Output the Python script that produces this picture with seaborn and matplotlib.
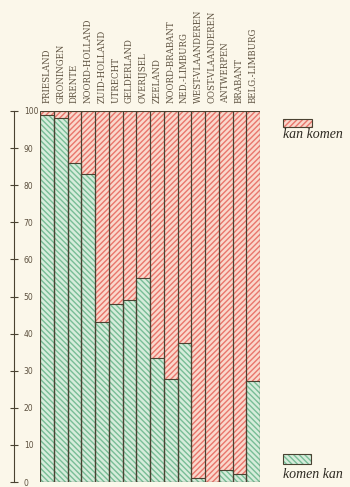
import matplotlib
matplotlib.use("Agg")
import matplotlib.pyplot as plt
import seaborn as sns
import pandas as pd
from matplotlib.patches import Rectangle

regions = ["FRIESLAND", "GRONINGEN", "DRENTE", "NOORD-HOLLAND", "ZUID-HOLLAND",
           "UTRECHT", "GELDERLAND", "OVERIJSEL", "ZEELAND", "NOORD-BRABANT",
           "NED.-LIMBURG", "WEST-VLAANDEREN", "OOST-VLAANDEREN", "ANTWERPEN",
           "BRABANT", "BELG.-LIMBURG"]
komen_kan = [99, 98, 86, 83, 43, 48, 49, 55, 33.5, 27.7, 37.6, 1, 0, 3.3, 2.1, 27.2]
totaal = [100] * len(regions)
yticks = [0, 10, 20, 30, 40, 50, 60, 70, 80, 90, 100]
legend_labels = ["kan komen", "komen kan"]

df = pd.DataFrame({"regio": regions, "komen_kan": komen_kan, "totaal": totaal})

BG = "#fbf7ea"
RED_FILL = "#fad8cc"
RED_HATCH = "#e9766c"
GREEN_FILL = "#d6ecdb"
GREEN_HATCH = "#78bd96"
EDGE = "#4a4232"
TEXT = "#5e5240"

sns.set_theme(style="white")
plt.rcParams["hatch.linewidth"] = 1.0

fig = plt.figure(figsize=(3.5, 4.87), dpi=100, facecolor=BG)
ax = fig.add_axes([40 / 350, 1 - 482 / 487, 220 / 350, (482 - 111) / 487])
ax.set_facecolor(BG)

# red background bars (total)
sns.barplot(data=df, x="regio", y="totaal", color=RED_FILL, saturation=1,
            width=1.0, ax=ax, errorbar=None)
n = len(regions)
for p in ax.patches[:n]:
    p.set_facecolor(RED_FILL)
    p.set_edgecolor(RED_HATCH)
    p.set_hatch("//////")
    p.set_linewidth(0)

# green bars
sns.barplot(data=df, x="regio", y="komen_kan", color=GREEN_FILL, saturation=1,
            width=1.0, ax=ax, errorbar=None)
for p in ax.patches[n:2 * n]:
    p.set_facecolor(GREEN_FILL)
    p.set_edgecolor(GREEN_HATCH)
    p.set_hatch("\\\\\\\\\\\\")
    p.set_linewidth(0)

# outlines
sns.barplot(data=df, x="regio", y="totaal", color=EDGE, fill=False, saturation=1,
            width=1.0, ax=ax, errorbar=None, linewidth=0.8)
sns.barplot(data=df, x="regio", y="komen_kan", color=EDGE, fill=False, saturation=1,
            width=1.0, ax=ax, errorbar=None, linewidth=0.8)
for p in ax.patches[2 * n:]:
    p.set_edgecolor(EDGE)
    p.set_facecolor("none")

ax.set_xlim(-0.5, n - 0.5)
ax.set_ylim(0, 100)
ax.set_xlabel("")
ax.set_ylabel("")

# top labels
ax.xaxis.tick_top()
ax.set_xticks(range(n))
ax.set_xticklabels(regions, rotation=90, family="DejaVu Serif", fontsize=6.2,
                   color=TEXT, va="bottom", ha="center")
ax.tick_params(axis="x", length=0, pad=5.5)

# y axis
for s in ["top", "right", "bottom"]:
    ax.spines[s].set_visible(False)
ax.spines["left"].set_position(("outward", 18.7))
ax.spines["left"].set_color(EDGE)
ax.spines["left"].set_linewidth(0.8)
ax.set_yticks(yticks)
ax.set_yticklabels([str(t) for t in yticks], fontsize=5.5, color=TEXT)
ax.tick_params(axis="y", direction="inout", length=6, width=0.8, color=EDGE,
               pad=-10.0, left=True)
for lab in ax.get_yticklabels():
    lab.set_horizontalalignment("left")

# legend-like keys
fig.add_artist(Rectangle((283 / 350, 1 - 127 / 487), 29 / 350, 8 / 487,
                         transform=fig.transFigure, facecolor=RED_FILL,
                         edgecolor=RED_HATCH, hatch="//////", linewidth=0))
fig.add_artist(Rectangle((283 / 350, 1 - 127 / 487), 29 / 350, 8 / 487,
                         transform=fig.transFigure, facecolor="none",
                         edgecolor=EDGE, linewidth=0.8))
fig.text(313 / 350, 1 - 135 / 487, legend_labels[0], family="Liberation Serif",
         style="italic", fontsize=10, color="#2e2a22", ha="center", va="center")

fig.add_artist(Rectangle((283 / 350, 1 - 464 / 487), 28 / 350, 10 / 487,
                         transform=fig.transFigure, facecolor=GREEN_FILL,
                         edgecolor=GREEN_HATCH, hatch="\\\\\\\\\\\\", linewidth=0))
fig.add_artist(Rectangle((283 / 350, 1 - 464 / 487), 28 / 350, 10 / 487,
                         transform=fig.transFigure, facecolor="none",
                         edgecolor=EDGE, linewidth=0.8))
fig.text(313 / 350, 1 - 474 / 487, legend_labels[1], family="Liberation Serif",
         style="italic", fontsize=10, color="#2e2a22", ha="center", va="center")

fig.savefig("out.png", dpi=100, facecolor=BG)
